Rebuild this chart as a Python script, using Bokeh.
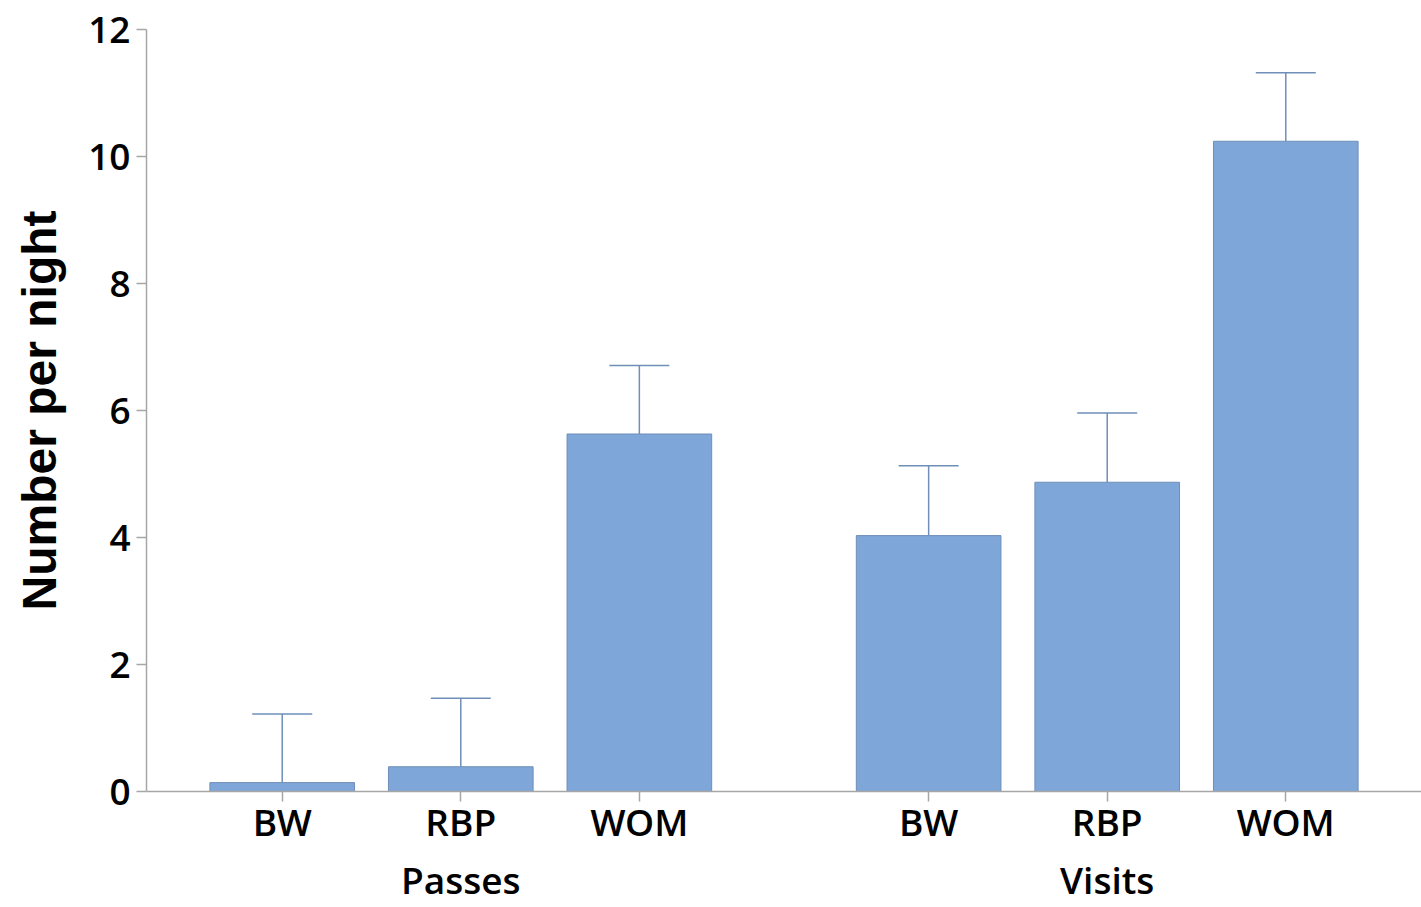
from bokeh.plotting import figure
from bokeh.models import FactorRange, Range1d, ColumnDataSource, Whisker, TeeHead, FixedTicker
from bokeh.embed import file_html
from bokeh.resources import INLINE

groups = ["Passes", "Visits"]
species = ["BW", "RBP", "WOM"]
passes_mean = [0.14, 0.39, 5.63]
passes_se = [1.08, 1.08, 1.08]
visits_mean = [4.03, 4.87, 10.24]
visits_se = [1.10, 1.09, 1.08]
y_ticks = [0, 2, 4, 6, 8, 10, 12]

factors = [(g, s) for g in groups for s in species]
means = passes_mean + visits_mean
ses = passes_se + visits_se
uppers = [m + s for m, s in zip(means, ses)]
src = ColumnDataSource(dict(x=factors, top=means, upper=uppers))

FONT = "Open Sans SemiBold"
AXIS_COLOR = "#a6a6a6"
BAR_COLOR = "#7ea6d8"
ERR_COLOR = "#6f8fb8"

p = figure(
    x_range=FactorRange(*factors, group_padding=0.62, range_padding=0.26,
                        range_padding_units="absolute"),
    y_range=Range1d(0, 12),
    width=1421, height=907,
    output_backend="svg", toolbar_location=None,
    min_border_left=146, min_border_right=0, min_border_top=29, min_border_bottom=114,
)

p.vbar(x="x", top="top", bottom=0, width=0.81, source=src,
       fill_color=BAR_COLOR, line_color=ERR_COLOR, line_width=1)

w = Whisker(source=src, base="x", upper="upper", lower="top",
            upper_head=TeeHead(size=60, line_color=ERR_COLOR, line_width=1.5),
            lower_head=None, line_color=ERR_COLOR, line_width=1.5)
p.add_layout(w)

p.outline_line_color = None
p.xgrid.grid_line_color = None
p.ygrid.grid_line_color = None

p.yaxis.ticker = FixedTicker(ticks=y_ticks)
p.yaxis.axis_label = "Number per night"
p.yaxis.axis_label_text_font = "Liberation Sans"
p.yaxis.axis_label_text_font_size = "48px"
p.yaxis.axis_label_text_font_style = "bold"
p.yaxis.axis_label_text_color = "black"
p.yaxis.axis_label_standoff = 19

for ax in (p.xaxis[0], p.yaxis[0]):
    ax.axis_line_color = AXIS_COLOR
    ax.axis_line_width = 1.5
    ax.major_tick_line_color = AXIS_COLOR
    ax.major_tick_line_width = 1.5
    ax.major_tick_in = 0
    ax.major_tick_out = 10
    ax.minor_tick_line_color = None
    ax.major_label_text_font = FONT
    ax.major_label_text_font_size = "37px"
    ax.major_label_text_color = "black"
    ax.major_label_standoff = 6

# outward ticks drawn via negative tick_in so that labels can use standoff spacing
p.xaxis.major_tick_in = -10
p.xaxis.major_tick_out = 0
p.xaxis.major_label_standoff = 4
p.xaxis.group_text_font = FONT
p.xaxis.group_text_font_size = "37px"
p.xaxis.group_text_font_style = "normal"
p.xaxis.group_text_color = "black"
p.xaxis.separator_line_color = None

open("out.html", "w").write(file_html(p, INLINE))
